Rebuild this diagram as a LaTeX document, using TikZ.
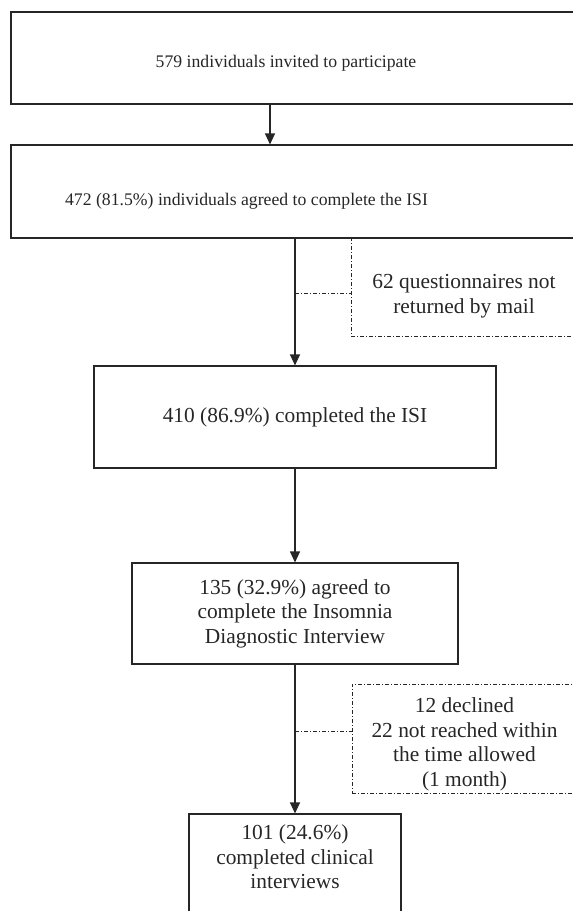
\documentclass[tikz,border=0pt]{standalone}
\usepackage{fontspec}
\setmainfont{Liberation Serif}
\usetikzlibrary{arrows.meta}
\definecolor{boxline}{HTML}{262626}
\newcommand{\topfont}{\fontsize{17.7}{21}\selectfont}
\newcommand{\boxfont}{\fontsize{21.4}{24.5}\selectfont}
\tikzset{
    flowbox/.style={draw=boxline, line width=1.1pt, inner sep=0pt, font=\boxfont, align=center, text=boxline},
    notebox/.style={draw=boxline, line width=0.8pt, dash pattern=on 4pt off 2pt on 1pt off 2pt, inner sep=0pt},
    flowarrow/.style={draw=boxline, line width=1.2pt, -{Triangle[length=11pt,width=10pt]}},
    notelink/.style={draw=boxline, line width=0.8pt, dash pattern=on 4pt off 2pt on 1pt off 2pt},
    boxtext/.style={font=\boxfont, align=center, text=boxline},
}

\begin{document}
\begin{tikzpicture}[x=1pt, y=-1pt]
    \useasboundingbox (0,0) rectangle (573,911);
    \clip (0,0) rectangle (573,911);

    % Main column - top two boxes run past the right edge
    \node[flowbox, minimum width=589pt, minimum height=92pt, label={[font=\topfont, text=boxline, xshift=-19.5pt, yshift=-5pt]center:579 individuals invited to participate}] (invited) at (305.5,58) {};
    \node[flowbox, minimum width=589pt, minimum height=93pt, label={[font=\topfont, text=boxline, xshift=-59pt, yshift=-10pt]center:472 (81.5\%) individuals agreed to complete the ISI}] (agreed) at (305.5,191.5) {};
    \node[flowbox, minimum width=402pt, minimum height=102pt] (completed) at (295,417) {410 (86.9\%) completed the ISI};
    \node[flowbox, minimum width=326pt, minimum height=101pt] (interview) at (295,613.5) {135 (32.9\%) agreed to\\complete the Insomnia\\Diagnostic Interview};
    \node[flowbox, minimum width=212pt, minimum height=120pt, label={[boxtext, yshift=17pt]center:101 (24.6\%)\\completed clinical\\interviews}] (clinical) at (295,874) {};

    % Side notes - dash-dot boxes
    \node[notebox, minimum width=226pt, minimum height=98pt, label={[boxtext, yshift=-9pt]center:62 questionnaires not\\returned by mail}] (notreturned) at (464,287) {};
    \node[notebox, minimum width=225pt, minimum height=109pt, label={[boxtext, yshift=-6pt]center:12 declined\\22 not reached within\\the time allowed\\(1 month)}] (declined) at (464.5,738.5) {};

    % Arrows down the column
    \draw[flowarrow] ([xshift=-35.5pt]invited.south) -- ([xshift=-35.5pt]agreed.north);
    \draw[flowarrow] (agreed.south -| completed.north) -- (completed.north);
    \draw[flowarrow] (completed.south) -- (interview.north);
    \draw[flowarrow] (interview.south) -- (clinical.north);

    % Links to the side notes
    \coordinate (notreturnedin) at ([yshift=-6pt]notreturned.west);
    \coordinate (declinedin) at ([yshift=7.5pt]declined.west);
    \draw[notelink] (notreturnedin -| completed.north) -- (notreturnedin);
    \draw[notelink] (declinedin -| interview.south) -- (declinedin);
\end{tikzpicture}
\end{document}
